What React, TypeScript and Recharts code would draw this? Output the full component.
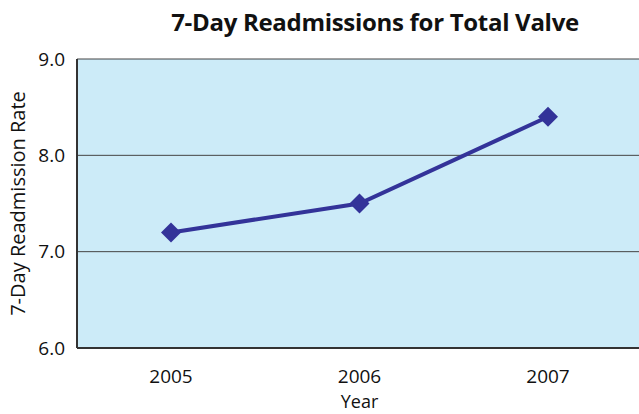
import { CartesianGrid, Line, LineChart, XAxis, YAxis, Label } from 'recharts';

const years = ['2005', '2006', '2007'];
const rates = [7.2, 7.5, 8.4];
const yTicks = [6, 7, 8, 9];

const data = years.map((year, i) => ({ year, rate: rates[i] }));

const FONT = '"Open Sans", sans-serif';

const Diamond = (props: any) => {
  const { cx, cy } = props;
  if (cx == null || cy == null) return null;
  const r = 10;
  return (
    <polygon
      points={`${cx},${cy - r} ${cx + r},${cy} ${cx},${cy + r} ${cx - r},${cy}`}
      fill="#333399"
    />
  );
};

export default function App() {
  return (
    <div style={{ position: 'absolute', left: 0, top: 0, width: 639, height: 414, overflow: 'hidden', background: '#fff' }}>
      <div
        style={{
          position: 'absolute',
          left: 0,
          width: 750,
          top: 5,
          textAlign: 'center',
          fontFamily: FONT,
          fontWeight: 700,
          fontSize: 24,
          color: '#111',
          letterSpacing: -0.3,
        }}
      >
        7-Day Readmissions for Total Valve
      </div>
      <LineChart
        width={650}
        height={414}
        data={data}
        margin={{ top: 59, right: 8, left: 0, bottom: 0 }}
      >
        <CartesianGrid vertical={false} stroke="#444" strokeWidth={1} fill="#CCEBF8" />
        <XAxis
          dataKey="year"
          height={66}
          padding={{ left: 94, right: 94 }}
          tickLine={false}
          axisLine={{ stroke: '#333', strokeWidth: 2 }}
          tick={{ fill: '#111', fontSize: 19, fontFamily: FONT }}
          tickMargin={16}
        >
          <Label value="Year" position="insideBottom" offset={6} style={{ fill: '#111', fontSize: 18, fontFamily: FONT }} />
        </XAxis>
        <YAxis
          domain={[6, 9]}
          ticks={yTicks}
          width={77}
          tickLine={false}
          axisLine={{ stroke: '#333', strokeWidth: 2 }}
          tickFormatter={(v: number) => v.toFixed(1)}
          tick={{ fill: '#111', fontSize: 19, fontFamily: FONT }}
          tickMargin={6}
        >
          <Label
            value="7-Day Readmission Rate"
            angle={-90}
            position="insideLeft"
            offset={18}
            style={{ textAnchor: 'middle', fill: '#111', fontSize: 20, fontFamily: FONT }}
          />
        </YAxis>
        <Line
          type="linear"
          dataKey="rate"
          stroke="#333399"
          strokeWidth={4}
          dot={<Diamond />}
          activeDot={false}
          isAnimationActive={false}
        />
      </LineChart>
    </div>
  );
}
